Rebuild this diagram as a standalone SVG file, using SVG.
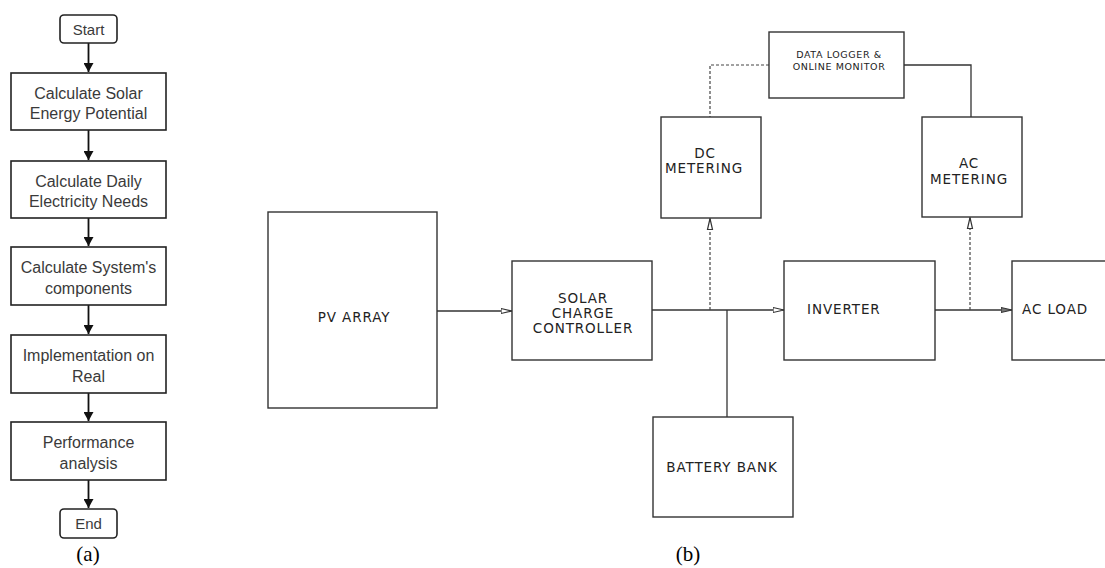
<svg xmlns="http://www.w3.org/2000/svg" width="1105" height="568" viewBox="0 0 1105 568">
<defs>
<style>
.fb{fill:#fff;stroke:#222;stroke-width:1.6}
.ft{font-family:"Liberation Sans",Arial,sans-serif;font-size:16px;fill:#3a3a3a;text-anchor:middle}
.fl{stroke:#111;stroke-width:1.8;fill:none}
.cb{fill:#fff;stroke:#333;stroke-width:1.4}
.ct{font-family:"DejaVu Sans","Liberation Sans",sans-serif;font-size:13.5px;fill:#222;letter-spacing:0.9px}
.cs{font-family:"DejaVu Sans","Liberation Sans",sans-serif;font-size:9.5px;fill:#222;letter-spacing:0.6px}
.cl{stroke:#333;stroke-width:1.3;fill:none}
.dl{stroke:#444;stroke-width:1.2;fill:none;stroke-dasharray:3,2}
.cap{font-family:"Liberation Serif","Times New Roman",serif;font-size:21px;fill:#000;text-anchor:middle}
</style>
<marker id="fa" markerWidth="10" markerHeight="10" refX="9" refY="5" orient="auto" markerUnits="userSpaceOnUse">
<path d="M0,0 L9,5 L0,10 Z" fill="#111"/>
</marker>
<marker id="oa" markerWidth="12" markerHeight="8" refX="11" refY="4" orient="auto" markerUnits="userSpaceOnUse">
<path d="M0,1.5 L11,4 L0,6.5 Z" fill="#fff" stroke="#333" stroke-width="1.2"/>
</marker>
<marker id="ga" markerWidth="12" markerHeight="8" refX="11" refY="4" orient="auto" markerUnits="userSpaceOnUse">
<path d="M0,1.5 L11,4 L0,6.5 Z" fill="#777" stroke="#333" stroke-width="1.2"/>
</marker>
</defs>
<rect width="1105" height="568" fill="#fff"/>

<!-- (a) flowchart -->
<g id="connectors-a">
<line class="fl" x1="88.5" y1="43" x2="88.5" y2="72" marker-end="url(#fa)"/>
<line class="fl" x1="88.5" y1="130" x2="88.5" y2="160" marker-end="url(#fa)"/>
<line class="fl" x1="88.5" y1="218" x2="88.5" y2="246" marker-end="url(#fa)"/>
<line class="fl" x1="88.5" y1="305" x2="88.5" y2="334" marker-end="url(#fa)"/>
<line class="fl" x1="88.5" y1="393" x2="88.5" y2="421" marker-end="url(#fa)"/>
<line class="fl" x1="88.5" y1="480" x2="88.5" y2="508" marker-end="url(#fa)"/>
</g>
<g id="start"><rect class="fb" x="60" y="15" width="57" height="28" rx="4"/><text class="ft" x="88.5" y="35" style="font-size:15px">Start</text></g>
<g id="step1"><rect class="fb" x="11" y="73" width="155" height="57"/><text class="ft" x="88.5" y="99">Calculate Solar</text><text class="ft" x="88.5" y="119">Energy Potential</text></g>
<g id="step2"><rect class="fb" x="11" y="161" width="155" height="57"/><text class="ft" x="88.5" y="187">Calculate Daily</text><text class="ft" x="88.5" y="207">Electricity Needs</text></g>
<g id="step3"><rect class="fb" x="11" y="247" width="155" height="58"/><text class="ft" x="88.5" y="273">Calculate System's</text><text class="ft" x="88.5" y="294">components</text></g>
<g id="step4"><rect class="fb" x="11" y="335" width="155" height="58"/><text class="ft" x="88.5" y="361">Implementation on</text><text class="ft" x="88.5" y="382">Real</text></g>
<g id="step5"><rect class="fb" x="11" y="422" width="155" height="58"/><text class="ft" x="88.5" y="448">Performance</text><text class="ft" x="88.5" y="469">analysis</text></g>
<g id="end"><rect class="fb" x="60" y="509" width="57" height="29" rx="4"/><text class="ft" x="88.5" y="529" style="font-size:15px">End</text></g>
<text class="cap" x="88" y="561">(a)</text>

<!-- (b) block diagram -->
<g id="connectors-b">
<line class="cl" x1="437" y1="311" x2="512" y2="311" marker-end="url(#oa)"/>
<line class="cl" x1="652" y1="310" x2="784" y2="310" marker-end="url(#oa)"/>
<line class="cl" x1="727" y1="310" x2="727" y2="418"/>
<line class="dl" x1="710" y1="310" x2="710" y2="218.5" marker-end="url(#oa)"/>
<line class="cl" x1="935" y1="310" x2="1012" y2="310" marker-end="url(#ga)"/>
<line class="dl" x1="970" y1="310" x2="970" y2="217.5" marker-end="url(#oa)"/>
<polyline class="dl" points="769,65 710,65 710,117"/>
<polyline class="cl" points="904,65 971,65 971,117"/>
</g>
<g id="pv-array"><rect class="cb" x="268" y="212" width="169" height="196"/><text class="ct" x="354" y="322" text-anchor="middle">PV ARRAY</text></g>
<g id="charge-controller"><rect class="cb" x="512" y="261" width="140" height="99"/>
<text class="ct" x="583" y="303" text-anchor="middle">SOLAR</text><text class="ct" x="583" y="318" text-anchor="middle">CHARGE</text><text class="ct" x="583" y="333" text-anchor="middle">CONTROLLER</text></g>
<g id="dc-metering"><rect class="cb" x="661" y="117" width="100" height="101"/><text class="ct" x="705" y="158" text-anchor="middle">DC</text><text class="ct" x="704" y="173" text-anchor="middle">METERING</text></g>
<g id="data-logger"><rect class="cb" x="769" y="32" width="135" height="66"/><text class="cs" x="839" y="58" text-anchor="middle">DATA LOGGER &amp;</text><text class="cs" x="839" y="70" text-anchor="middle">ONLINE MONITOR</text></g>
<g id="ac-metering"><rect class="cb" x="922" y="117" width="100" height="100"/><text class="ct" x="969" y="168" text-anchor="middle">AC</text><text class="ct" x="969" y="184" text-anchor="middle">METERING</text></g>
<g id="inverter"><rect class="cb" x="784" y="261" width="151" height="99"/><text class="ct" x="807" y="314">INVERTER</text></g>
<g id="ac-load"><rect class="cb" x="1012" y="261" width="100" height="99"/><text class="ct" x="1022" y="314">AC LOAD</text></g>
<g id="battery-bank"><rect class="cb" x="653" y="417" width="140" height="100"/><text class="ct" x="722" y="472" text-anchor="middle">BATTERY BANK</text></g>
<text class="cap" x="688" y="561">(b)</text>
</svg>
